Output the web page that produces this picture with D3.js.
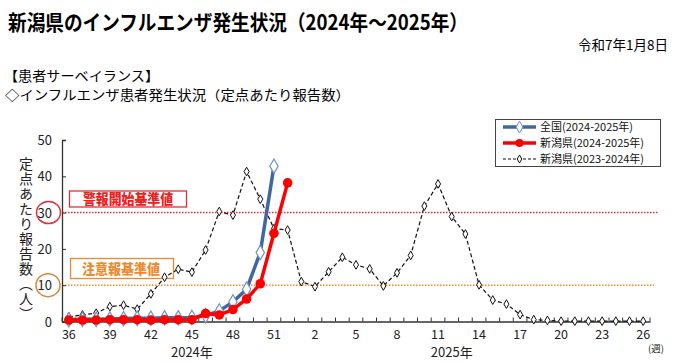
<!DOCTYPE html>
<html>
<head>
<meta charset="utf-8">
<script src="https://cdn.jsdelivr.net/npm/d3@7"></script>
<style>
  body { margin: 0; background: #fff; }
  svg { display: block; font-family: "Noto Sans CJK JP", "Noto Sans", sans-serif; }
</style>
</head>
<body>
<div id="chart"></div>
<script>
// weeks: 2024 wk36..wk52, 2025 wk1..wk26
var weeks = [36,37,38,39,40,41,42,43,44,45,46,47,48,49,50,51,52,
  1,2,3,4,5,6,7,8,9,10,11,12,13,14,15,16,17,18,19,20,21,22,23,24,25,26];
var weekLabels = ["36","39","42","45","48","51","2","5","8","11","14","17","20","23","26"];
var yTicks = [0,10,20,30,40,50];

var national = [0.5,0.6,0.6,0.7,0.8,0.9,0.9,1.0,1.0,1.1,1.6,2.9,5.4,8.9,19.0,42.8];
var niigata = [0.4,0.4,0.4,0.5,0.5,0.5,0.4,0.5,0.5,0.5,2.2,1.8,3.3,6.2,10.4,24.3,38.2];
var niigataPrev = [1.3,1.8,2.3,4.1,4.5,3.4,7.6,12.2,14.4,13.6,19.7,30.3,29.3,41.3,33.7,25.6,25.2,
  11.0,9.6,13.7,17.7,15.6,14.5,9.8,13.4,18.2,31.8,37.9,28.9,24.1,10.1,5.9,4.8,1.9,0.5,0.3,
  0.1,0.1,0.1,0.1,0.1,0.1,0.1];

var legendNames = ["全国(2024-2025年)", "新潟県(2024-2025年)", "新潟県(2023-2024年)"];
var alarmLevel = 30, cautionLevel = 10;

var width = 683, height = 362;
var svg = d3.select("#chart").append("svg")
  .attr("width", width).attr("height", height);

// headings
svg.append("text").attr("x", 8).attr("y", 30)
  .attr("font-size", 21).attr("font-weight", "bold")
  .attr("textLength", 460).attr("lengthAdjust", "spacingAndGlyphs")
  .text("新潟県のインフルエンザ発生状況（2024年～2025年）");
svg.append("text").attr("x", 668).attr("y", 50).attr("text-anchor", "end")
  .attr("font-size", 13.5).text("令和7年1月8日");
svg.append("text").attr("x", 4).attr("y", 81).attr("font-size", 13.5)
  .attr("textLength", 155).attr("lengthAdjust", "spacingAndGlyphs")
  .text("【患者サーベイランス】");
svg.append("text").attr("x", 5).attr("y", 100).attr("font-size", 13.5)
  .attr("textLength", 345).attr("lengthAdjust", "spacingAndGlyphs")
  .text("◇インフルエンザ患者発生状況（定点あたり報告数）");

// scales
var x = d3.scaleBand().domain(d3.range(weeks.length)).range([62, 650]);
var cx = function(i) { return x(i) + x.bandwidth() / 2; };
var y = d3.scaleLinear().domain([0, 50]).range([321.5, 140]);

// reference lines
svg.append("line").attr("x1", 62).attr("x2", 658)
  .attr("y1", y(alarmLevel)).attr("y2", y(alarmLevel))
  .attr("stroke", "#e0303a").attr("stroke-width", 1.5).attr("stroke-dasharray", "1.5,1.5");
svg.append("line").attr("x1", 62).attr("x2", 654)
  .attr("y1", y(cautionLevel)).attr("y2", y(cautionLevel))
  .attr("stroke", "#ee8a2c").attr("stroke-width", 1.5).attr("stroke-dasharray", "1.5,1.5");

// labels for reference lines
svg.append("rect").attr("x", 69.5).attr("y", 191).attr("width", 117).attr("height", 16)
  .attr("fill", "#fff").attr("stroke", "#e0303a").attr("stroke-width", 1.3);
svg.append("text").attr("x", 128).attr("y", 204).attr("text-anchor", "middle")
  .attr("font-size", 14).attr("font-weight", "900").attr("fill", "#f02020")
  .attr("textLength", 90).attr("lengthAdjust", "spacingAndGlyphs")
  .text("警報開始基準値");
svg.append("rect").attr("x", 70.5).attr("y", 258.5).attr("width", 103).attr("height", 20)
  .attr("fill", "#fff").attr("stroke", "#ee8a2c").attr("stroke-width", 1.3);
svg.append("text").attr("x", 121).attr("y", 273.5).attr("text-anchor", "middle")
  .attr("font-size", 13.5).attr("font-weight", "900").attr("fill", "#ee8a2c")
  .attr("textLength", 78).attr("lengthAdjust", "spacingAndGlyphs")
  .text("注意報基準値");

// axes
svg.append("g").attr("transform", "translate(62,0)")
  .call(d3.axisRight(y).tickValues(yTicks).tickSize(4).tickFormat(""));
svg.append("g").attr("transform", "translate(0," + y(0) + ")")
  .call(d3.axisTop(x).tickValues([]).tickSizeOuter(0));
svg.selectAll(".domain").attr("stroke", "#333").attr("stroke-width", 1.3);
svg.selectAll(".tick line").attr("stroke", "#333");

// x ticks between categories
svg.append("g").selectAll("line")
  .data(d3.range(weeks.length + 1))
  .join("line")
  .attr("x1", function(i) { return 62 + i * x.step(); })
  .attr("x2", function(i) { return 62 + i * x.step(); })
  .attr("y1", y(0)).attr("y2", y(0) - 4)
  .attr("stroke", "#333");

svg.append("g").selectAll("text")
  .data(yTicks).join("text")
  .attr("x", 52).attr("y", function(d) { return y(d) + 5; })
  .attr("text-anchor", "end").attr("font-size", 13).attr("fill", "#222")
  .text(function(d) { return d; });

svg.append("g").selectAll("text")
  .data(weekLabels).join("text")
  .attr("x", function(d, k) { return cx(k * 3); })
  .attr("y", 339).attr("text-anchor", "middle").attr("font-size", 12.5).attr("fill", "#222")
  .text(function(d) { return d; });

svg.append("text").attr("x", cx(9)).attr("y", 357).attr("text-anchor", "middle")
  .attr("font-size", 13).attr("fill", "#222").text("2024年");
svg.append("text").attr("x", cx(28)).attr("y", 357).attr("text-anchor", "middle")
  .attr("font-size", 13).attr("fill", "#222").text("2025年");
svg.append("text").attr("x", 656).attr("y", 352).attr("text-anchor", "middle")
  .attr("font-size", 9.5).attr("fill", "#222").text("(週)");

// circles around 30 and 10
svg.append("ellipse").attr("cx", 48.5).attr("cy", y(alarmLevel)).attr("rx", 12).attr("ry", 11)
  .attr("fill", "none").attr("stroke", "#e0303a").attr("stroke-width", 1.5);
svg.append("ellipse").attr("cx", 48).attr("cy", y(cautionLevel)).attr("rx", 12).attr("ry", 11.5)
  .attr("fill", "none").attr("stroke", "#d8873a").attr("stroke-width", 1.5);

// y title (vertical)
svg.append("text").attr("x", 26).attr("y", 157)
  .attr("font-size", 14).attr("fill", "#222")
  .style("writing-mode", "vertical-rl").style("letter-spacing", "1px")
  .text("定点あたり報告数（人）");

// series
var line = d3.line()
  .x(function(d, i) { return cx(i); })
  .y(function(d) { return y(d); });
var diamond = d3.symbol().type(d3.symbolDiamond);

function drawPrev(g, data) {
  g.append("path").datum(data)
    .attr("fill", "none").attr("stroke", "#111").attr("stroke-width", 1.2)
    .attr("stroke-dasharray", "4,2.5").attr("d", line);
  g.selectAll(".pm").data(data).join("path").attr("class", "pm")
    .attr("transform", function(d, i) { return "translate(" + cx(i) + "," + y(d) + ")"; })
    .attr("d", diamond.size(22)())
    .attr("fill", "#fff").attr("stroke", "#111").attr("stroke-width", 1);
}
function drawNational(g, data) {
  g.append("path").datum(data)
    .attr("fill", "none").attr("stroke", "#41689e").attr("stroke-width", 3.5).attr("d", line);
  g.selectAll(".nm").data(data).join("path").attr("class", "nm")
    .attr("transform", function(d, i) { return "translate(" + cx(i) + "," + y(d) + ")"; })
    .attr("d", diamond.size(60)())
    .attr("fill", "#fff").attr("stroke", "#6f93c6").attr("stroke-width", 1.2);
}
function drawNiigata(g, data) {
  g.append("path").datum(data)
    .attr("fill", "none").attr("stroke", "#ff0000").attr("stroke-width", 3.5).attr("d", line);
  g.selectAll(".rm").data(data).join("circle").attr("class", "rm")
    .attr("cx", function(d, i) { return cx(i); })
    .attr("cy", function(d) { return y(d); })
    .attr("r", 4.8).attr("fill", "#ff0000");
}

drawPrev(svg.append("g"), niigataPrev);
drawNational(svg.append("g"), national);
drawNiigata(svg.append("g"), niigata);

// legend
var lg = svg.append("g");
lg.append("rect").attr("x", 495.5).attr("y", 119.5).attr("width", 165).attr("height", 47)
  .attr("fill", "#fff").attr("stroke", "#444").attr("stroke-width", 1);
var rows = [127, 143, 159];
var lineX = d3.scaleLinear().domain([0, 1]).range([503, 536]);

lg.append("line").attr("x1", lineX(0)).attr("x2", lineX(1)).attr("y1", rows[0]).attr("y2", rows[0])
  .attr("stroke", "#41689e").attr("stroke-width", 3.5);
lg.append("path").attr("transform", "translate(" + lineX(0.5) + "," + rows[0] + ")")
  .attr("d", diamond.size(40)()).attr("fill", "#fff").attr("stroke", "#6f93c6");
lg.append("line").attr("x1", lineX(0)).attr("x2", lineX(1)).attr("y1", rows[1]).attr("y2", rows[1])
  .attr("stroke", "#ff0000").attr("stroke-width", 3.5);
lg.append("circle").attr("cx", lineX(0.5)).attr("cy", rows[1]).attr("r", 4).attr("fill", "#ff0000");
lg.append("line").attr("x1", lineX(0)).attr("x2", lineX(1)).attr("y1", rows[2]).attr("y2", rows[2])
  .attr("stroke", "#111").attr("stroke-width", 1.2).attr("stroke-dasharray", "3,2");
lg.append("path").attr("transform", "translate(" + lineX(0.5) + "," + rows[2] + ")")
  .attr("d", diamond.size(18)()).attr("fill", "#fff").attr("stroke", "#111");

lg.selectAll(".lt").data(legendNames).join("text").attr("class", "lt")
  .attr("x", 540).attr("y", function(d, i) { return rows[i] + 4; })
  .attr("font-size", 11).attr("fill", "#111")
  .text(function(d) { return d; });
</script>
</body>
</html>
